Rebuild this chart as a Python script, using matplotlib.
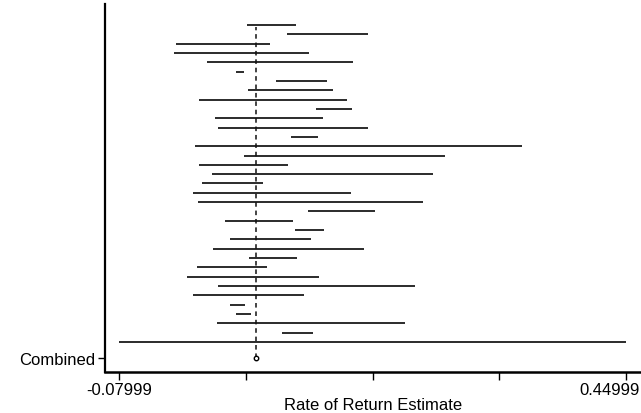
import matplotlib
matplotlib.use("Agg")
import matplotlib.pyplot as plt
import matplotlib.transforms as mtransforms
import numpy as np

# Confidence intervals of the individual studies (top to bottom)
lower = [0.054, 0.096, -0.020, -0.023, 0.012, 0.042, 0.084, 0.055, 0.004, 0.126,
         0.020, 0.023, 0.100, -0.001, 0.051, 0.004, 0.017, 0.007, -0.003, 0.003,
         0.118, 0.031, 0.104, 0.036, 0.018, 0.056, 0.001, -0.009, 0.023, -0.003,
         0.036, 0.042, 0.022, 0.090, -0.080]
upper = [0.105, 0.180, 0.078, 0.119, 0.165, 0.051, 0.137, 0.144, 0.158, 0.164,
         0.133, 0.180, 0.128, 0.341, 0.261, 0.097, 0.248, 0.071, 0.162, 0.238,
         0.188, 0.102, 0.134, 0.121, 0.176, 0.106, 0.075, 0.129, 0.229, 0.113,
         0.052, 0.058, 0.219, 0.123, 0.450]
combined = 0.0635
xtick_vals = [-0.07999, 0.0525, 0.185, 0.3175, 0.44999]
xtick_labels = ["-0.07999", "", "", "", "0.44999"]
ylabel_text = "Combined"
xlabel_text = "Rate of Return Estimate"

plt.rcParams['font.family'] = ['Liberation Sans', 'DejaVu Sans']

fig = plt.figure(figsize=(6.41, 4.14), dpi=100)
ax = fig.add_axes([105/641, 41/414, 536/641, 368/414])

n = len(lower)
ypos = np.arange(n, 0, -1)  # top row highest
y_comb = 1 - 1.72

ax.hlines(ypos, lower, upper, colors="#1a1a1a", linewidth=1.3)
ax.vlines(combined, y_comb, ypos[0] - 0.2, colors="#111111", linewidth=1.1,
          linestyles=(0, (3, 2.5)))
ax.plot([combined], [y_comb], marker="o", markersize=3.2, markerfacecolor="white",
        markeredgecolor="black", markeredgewidth=1.0, linestyle="none")

ax.set_xlim(-0.0947, 0.4657)
ax.set_ylim(1 - 3.22, n + 2.25)

ax.set_xticks(xtick_vals)
ax.set_xticklabels(xtick_labels, fontsize=12)
ax.set_yticks([y_comb])
ax.set_yticklabels([ylabel_text], fontsize=12)
ax.tick_params(axis="x", direction="out", length=6, width=1.0, pad=1.5)
ax.tick_params(axis="y", direction="out", length=5, width=1.0, pad=2)
ax.set_xlabel(xlabel_text, fontsize=12, labelpad=-0.5)

# last tick label sits left of its tick, ending near the figure edge
last = ax.get_xticklabels()[-1]
last.set_horizontalalignment("right")
last.set_transform(last.get_transform() +
                   mtransforms.ScaledTranslation(14/100, 0, fig.dpi_scale_trans))

for s in ["top", "right"]:
    ax.spines[s].set_visible(False)
ax.spines["left"].set_linewidth(1.6)
ax.spines["bottom"].set_linewidth(1.8)

fig.savefig("out.png", dpi=100)
